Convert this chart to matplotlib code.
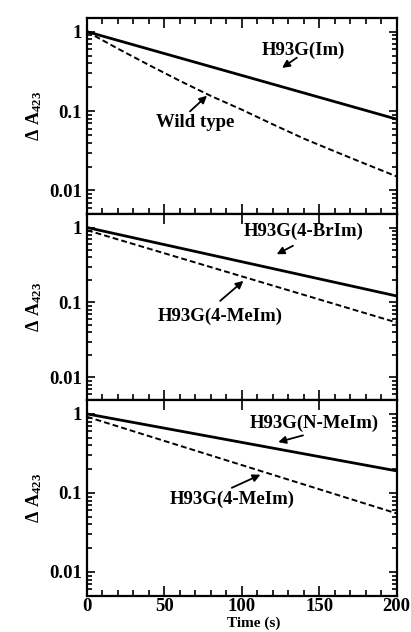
import matplotlib
matplotlib.use("Agg")
import matplotlib.pyplot as plt
from matplotlib.ticker import LogLocator, NullFormatter, MultipleLocator

from matplotlib import rcParams
rcParams['font.family'] = ['Liberation Serif']
rcParams['font.weight'] = 'bold'
rcParams['mathtext.fontset'] = 'custom'
rcParams['mathtext.rm'] = 'Liberation Serif:bold'
rcParams['mathtext.it'] = 'Liberation Serif:bold'
rcParams['mathtext.bf'] = 'Liberation Serif:bold'

# panel 1: wild type (dashed) and H93G(Im) (solid)
wt_time = [0, 20, 40, 60, 80, 100, 120, 140, 160, 180, 200]
wt_abs = [1.0, 0.61, 0.38, 0.24, 0.155, 0.104, 0.068, 0.045, 0.031, 0.0215, 0.015]
im_time = [0, 200]
im_abs = [1.0, 0.079]

# panel 2: H93G(4-BrIm) solid, H93G(4-MeIm) dashed
brim_time = [0, 200]
brim_abs = [1.0, 0.122]
meim_time = [0, 200]
meim_abs = [0.92, 0.054]

# panel 3: H93G(N-MeIm) solid, H93G(4-MeIm) dashed
nmeim_time = [0, 200]
nmeim_abs = [1.0, 0.19]
meim3_abs = [0.92, 0.055]

ytick_vals = [1, 0.1, 0.01]
ytick_labels = ['1', '0.1', '0.01']
xtick_vals = [0, 50, 100, 150, 200]

# (text, text xy, arrow tail, arrow head)
notes = [
  [('H93G(Im)', (140, 0.59), (135.5, 0.47), (126, 0.35)),
   ('Wild type', (70, 0.071), (66.5, 0.099), (77.5, 0.156))],
  [('H93G(4-BrIm)', (140, 0.90), (133, 0.57), (122.5, 0.44)),
   ('H93G(4-MeIm)', (86, 0.066), (86, 0.105), (101, 0.194))],
  [('H93G(N-MeIm)', (147, 0.75), (139.5, 0.535), (123.5, 0.44)),
   ('H93G(4-MeIm)', (93.5, 0.083), (93.5, 0.116), (112, 0.17))],
]

fig = plt.figure(figsize=(4.11, 6.32), dpi=100)
gs = fig.add_gridspec(3, 1, height_ratios=[196.6, 185.7, 195.7], hspace=0,
                      left=87/411, right=396.7/411, top=1-17.7/632, bottom=1-595.7/632)
axes = [fig.add_subplot(gs[i]) for i in range(3)]

solid_kw = dict(color='black', lw=2.0, solid_capstyle='butt')
dash_kw = dict(color='black', lw=1.4, linestyle=(0, (3, 1.6)))

axes[0].plot(im_time, im_abs, **solid_kw)
axes[0].plot(wt_time, wt_abs, **dash_kw)
axes[1].plot(brim_time, brim_abs, **solid_kw)
axes[1].plot(meim_time, meim_abs, **dash_kw)
axes[2].plot(nmeim_time, nmeim_abs, **solid_kw)
axes[2].plot(meim_time, meim3_abs, **dash_kw)

for i, ax in enumerate(axes):
  ax.set_yscale('log')
  ax.set_xlim(0, 200)
  ax.set_ylim(0.005, 1.5)
  ax.set_yticks(ytick_vals)
  ax.set_yticklabels(ytick_labels)
  ax.yaxis.set_minor_locator(LogLocator(base=10, subs=range(2, 10)))
  ax.yaxis.set_minor_formatter(NullFormatter())
  ax.set_xticks(xtick_vals)
  ax.xaxis.set_minor_locator(MultipleLocator(10))
  ax.tick_params(which='both', direction='in', top=True, right=True, labelsize=13.5, width=1.2)
  ax.tick_params(axis='x', which='major', length=7)
  ax.tick_params(axis='x', which='minor', length=4)
  ax.tick_params(axis='y', which='major', length=6)
  ax.tick_params(axis='y', which='minor', length=3.5)
  if i > 0:
    ax.tick_params(axis='x', which='minor', top=False)
  if i < 2:
    ax.tick_params(axis='x', labelbottom=False)
  for s in ax.spines.values():
    s.set_linewidth(1.6)
  ax.set_ylabel(r'$\Delta\ \mathrm{A}_{423}$', fontsize=13, labelpad=4)

  for txt, txy, tail, head in notes[i]:
    ax.text(txy[0], txy[1], txt, ha='center', va='center', fontsize=13.5, fontweight='bold')
    ax.annotate('', xy=head, xytext=tail,
                arrowprops=dict(arrowstyle='-|>', color='black', lw=1.3,
                                mutation_scale=11, shrinkA=0, shrinkB=0))

axes[2].tick_params(axis='x', pad=1.5)
fig.text(254/411, 1-617/632, 'Time (s)', ha='center', va='top', fontsize=11, fontweight='bold')

fig.savefig('out.png', dpi=100)
